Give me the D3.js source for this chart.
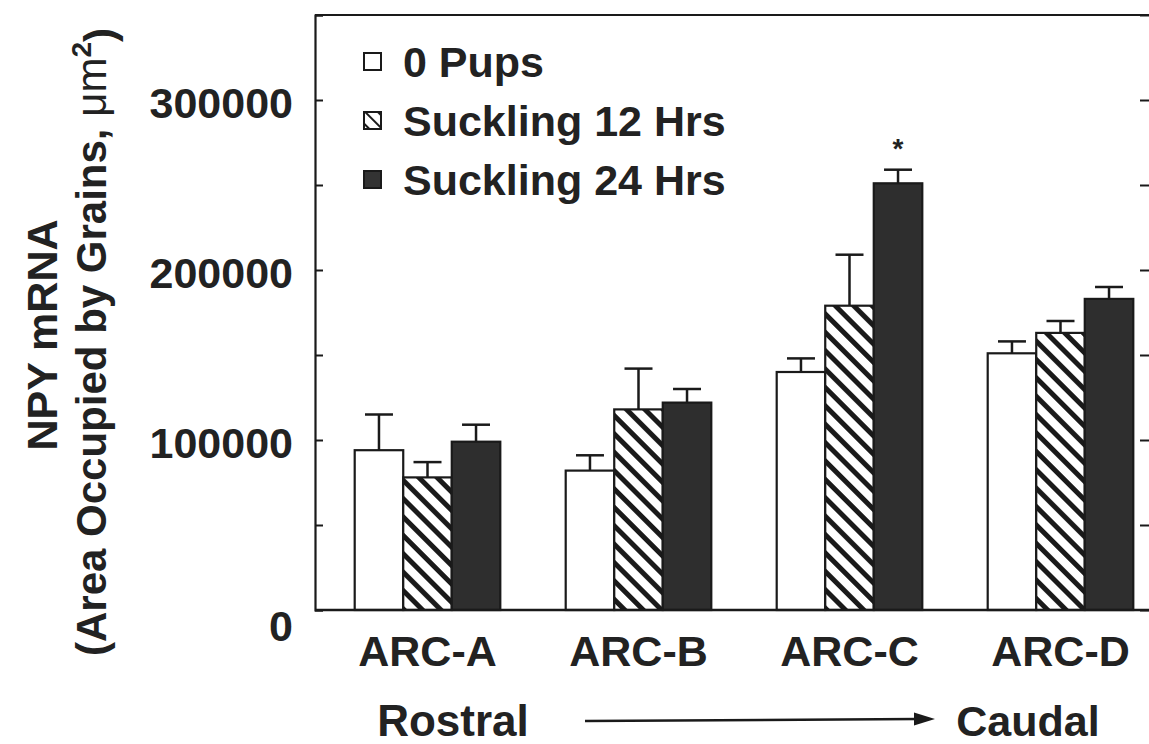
<!DOCTYPE html>
<html>
<head>
<meta charset="utf-8">
<script src="https://cdn.jsdelivr.net/npm/d3@7"></script>
<style>
  html, body { margin: 0; padding: 0; background: #fff; }
  svg { display: block; }
  text { font-family: "Liberation Sans", Arial, Helvetica, sans-serif; font-weight: bold; fill: #222; }
</style>
</head>
<body>
<svg id="chart" width="1149" height="744"></svg>
<script>
// ---- data ----
const categories = ["ARC-A", "ARC-B", "ARC-C", "ARC-D"];
const seriesNames = ["0 Pups", "Suckling 12 Hrs", "Suckling 24 Hrs"];
const pups0      = [94000, 82000, 140000, 151000];
const pups0Err   = [21000,  9000,   8000,   7000];
const suckling12 = [78000, 118000, 179000, 163000];
const suckling12Err = [9000, 24000, 30000, 7000];
const suckling24 = [99000, 122000, 251000, 183000];
const suckling24Err = [10000, 8000, 8000, 7000];
const yTickValues = [0, 50000, 100000, 150000, 200000, 250000, 300000, 350000];
const yLabelValues = [0, 100000, 200000, 300000];
const significant = ["ARC-C|Suckling 24 Hrs"];

const values = [pups0, suckling12, suckling24];
const errors = [pups0Err, suckling12Err, suckling24Err];
const rows = [];
categories.forEach((c, i) => seriesNames.forEach((s, j) => {
  rows.push({cat: c, series: s, idx: j, value: values[j][i], err: errors[j][i]});
}));

// ---- layout ----
const svg = d3.select("#chart");
const mLeft = 315, mRight = 1157, mTop = 15, mBottom = 610;

const y = d3.scaleLinear().domain([0, 350000]).range([mBottom, mTop]);
const x0 = d3.scaleBand().domain(categories).range([322, 1166])
  .paddingInner(0.31).paddingOuter(0.155);
const x1 = d3.scaleBand().domain(seriesNames).range([0, x0.bandwidth()]).padding(0);

// hatch patterns
const defs = svg.append("defs");
const pat = defs.append("pattern").attr("id", "hatch")
  .attr("patternUnits", "userSpaceOnUse").attr("width", 13).attr("height", 13)
  .attr("patternTransform", "rotate(45)");
pat.append("rect").attr("width", 13).attr("height", 13).attr("fill", "#fff");
pat.append("rect").attr("x", 0).attr("y", 0).attr("width", 13).attr("height", 5).attr("fill", "#1a1a1a");

const patSmall = defs.append("pattern").attr("id", "hatchSmall")
  .attr("patternUnits", "userSpaceOnUse").attr("width", 9).attr("height", 9)
  .attr("patternTransform", "rotate(45)");
patSmall.append("rect").attr("width", 9).attr("height", 9).attr("fill", "#fff");
patSmall.append("rect").attr("width", 9).attr("height", 2).attr("fill", "#1a1a1a");

const fills = {"0 Pups": "#fff", "Suckling 12 Hrs": "url(#hatch)", "Suckling 24 Hrs": "#2e2e2e"};
const legendFills = {"0 Pups": "#fff", "Suckling 12 Hrs": "url(#hatchSmall)", "Suckling 24 Hrs": "#333"};

// error bars
const eb = svg.append("g").attr("stroke", "#1a1a1a").attr("stroke-width", 2.5).attr("fill", "none");
rows.forEach(d => {
  const cx = x0(d.cat) + x1(d.series) + x1.bandwidth() / 2;
  eb.append("line").attr("x1", cx).attr("x2", cx).attr("y1", y(d.value)).attr("y2", y(d.value + d.err));
  eb.append("line").attr("x1", cx - 14).attr("x2", cx + 14).attr("y1", y(d.value + d.err)).attr("y2", y(d.value + d.err));
});

// bars
svg.append("g").selectAll("rect").data(rows).join("rect")
  .attr("x", d => x0(d.cat) + x1(d.series))
  .attr("y", d => y(d.value))
  .attr("width", x1.bandwidth())
  .attr("height", d => y(0) - y(d.value))
  .attr("fill", d => fills[d.series])
  .attr("stroke", "#1a1a1a").attr("stroke-width", 2.2);

// significance star
rows.filter(d => significant.includes(d.cat + "|" + d.series)).forEach(d => {
  const cx = x0(d.cat) + x1(d.series) + x1.bandwidth() / 2;
  svg.append("text").attr("x", cx).attr("y", y(d.value + d.err) - 12)
    .attr("text-anchor", "middle").style("font-size", "28px").text("*");
});

// axes / frame
const yAxis = d3.axisLeft(y).tickValues(yTickValues).tickSize(-8).tickPadding(22)
  .tickFormat(d => yLabelValues.includes(d) ? String(d) : "");
const gy = svg.append("g").attr("transform", `translate(${mLeft},0)`).call(yAxis);
gy.select(".domain").attr("stroke", "#1a1a1a").attr("stroke-width", 2.2);
gy.selectAll(".tick line").attr("stroke", "#1a1a1a").attr("stroke-width", 2);
gy.selectAll(".tick text").style("font-size", "43px").style("font-family", null).attr("fill", "#222")
  .attr("dy", d => d === 0 ? "0.72em" : "0.4em");

const yAxisR = d3.axisRight(y).tickValues(yTickValues).tickSize(-17).tickSizeOuter(0).tickFormat("");
const gr = svg.append("g").attr("transform", `translate(${mRight},0)`).call(yAxisR);
gr.select(".domain").attr("stroke", "#1a1a1a").attr("stroke-width", 2.2);
gr.selectAll(".tick line").attr("stroke", "#1a1a1a").attr("stroke-width", 2);

svg.append("line").attr("x1", mLeft).attr("x2", mRight).attr("y1", y(350000)).attr("y2", y(350000))
  .attr("stroke", "#1a1a1a").attr("stroke-width", 2.2);
svg.append("line").attr("x1", mLeft).attr("x2", mRight).attr("y1", y(0)).attr("y2", y(0))
  .attr("stroke", "#1a1a1a").attr("stroke-width", 2.5);

// x category labels
const xAxis = d3.axisBottom(x0).tickSize(0).tickPadding(0);
const gx = svg.append("g").attr("transform", `translate(0,${mBottom})`).call(xAxis);
gx.select(".domain").remove();
gx.selectAll(".tick text").style("font-size", "43px").style("font-family", null).attr("fill", "#222")
  .attr("y", 56).attr("dy", 0);

// Rostral -> Caudal
svg.append("text").attr("x", 453).attr("y", 736).attr("text-anchor", "middle").style("font-size", "44px").text("Rostral");
svg.append("text").attr("x", 1028).attr("y", 736).attr("text-anchor", "middle").style("font-size", "43px").text("Caudal");
svg.append("line").attr("x1", 585).attr("x2", 918).attr("y1", 721).attr("y2", 719)
  .attr("stroke", "#1a1a1a").attr("stroke-width", 2.5);
svg.append("path").attr("d", "M914,712.5 L935,719 L914,725.5 Z").attr("fill", "#1a1a1a");

// y title
svg.append("text").attr("transform", "translate(57,335) rotate(-90)")
  .attr("text-anchor", "middle").style("font-size", "43px").text("NPY mRNA");
const t2 = svg.append("text").attr("transform", "translate(106,342) rotate(-90)")
  .attr("text-anchor", "middle").style("font-size", "42px");
t2.append("tspan").text("(Area Occupied by Grains, ");
t2.append("tspan").style("font-weight", "normal").text("μm");
t2.append("tspan").attr("dy", "-0.55em").style("font-size", "28px").text("2");
t2.append("tspan").attr("dy", "0.55em").text(")");

// legend
const lg = svg.append("g");
seriesNames.forEach((s, i) => {
  const cy = 62 + i * 59;
  lg.append("rect").attr("x", 364).attr("y", cy - 9).attr("width", 17).attr("height", 17)
    .attr("fill", legendFills[s]).attr("stroke", "#1a1a1a").attr("stroke-width", 2);
  lg.append("text").attr("x", 403).attr("y", cy).attr("dy", "0.36em").style("font-size", "43px").text(s);
});
</script>
</body>
</html>
